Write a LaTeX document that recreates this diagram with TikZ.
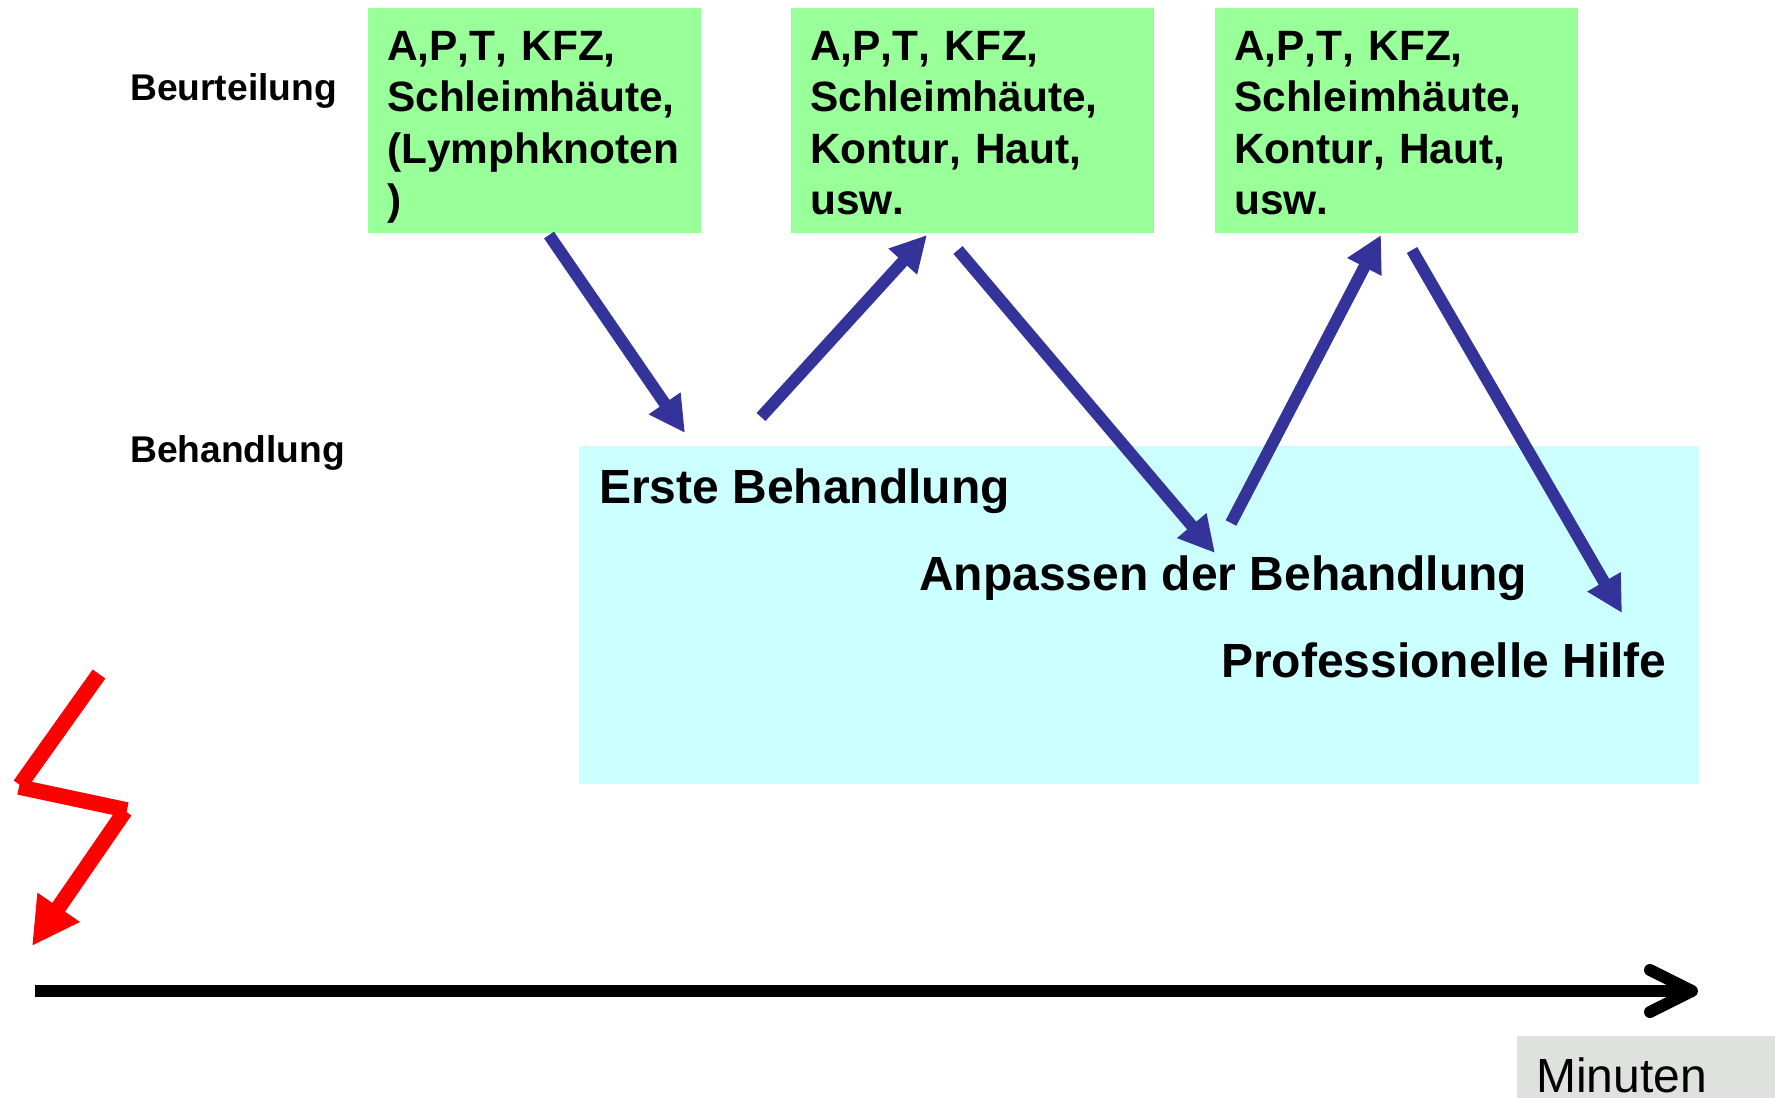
\documentclass[tikz,border=0pt]{standalone}
\usepackage{fontspec}
\setmainfont{Liberation Sans}[Kerning=Off]
\usetikzlibrary{arrows.meta}
\definecolor{boxgreen}{HTML}{99FF99}
\definecolor{boxcyan}{HTML}{CCFFFF}
\definecolor{boxgray}{HTML}{DFE1DF}
\definecolor{arrowblue}{HTML}{333399}
\tikzset{
	greenbox/.style={fill=boxgreen, anchor=north west, inner xsep=19pt, inner ysep=0pt, align=left, font=\fontsize{42.4}{51.5}\selectfont\bfseries,
		execute at begin node={\rule{0pt}{52pt}}, execute at end node={\rule[-18.5pt]{0pt}{0pt}}},
	rowlabel/.style={anchor=base west, inner sep=0pt, font=\fontsize{37.2}{44}\selectfont\bfseries},
	steplabel/.style={anchor=base west, inner sep=0pt, font=\fontsize{48}{58}\selectfont\bfseries},
	bluearrow/.style={draw=arrowblue, line width=12pt, -{Triangle[length=36pt,width=36pt]}},
	redline/.style={draw=red, line width=15.5pt},
}
\begin{document}
\begin{tikzpicture}[x=1pt,y=-1pt]
\useasboundingbox (0,0) rectangle (1775,1098);
\node[greenbox, text width=295pt] (first) at (368,8) {A,P,T, KFZ,\\Schleimhäute,\\(Lymphknoten\\)};
\node[greenbox, text width=325pt] (second) at (791,8) {A,P,T, KFZ,\\Schleimhäute,\\Kontur, Haut,\\usw.};
\node[greenbox, text width=325pt] (third) at (1215,8) {A,P,T, KFZ,\\Schleimhäute,\\Kontur, Haut,\\usw.};
\node[rowlabel] (beurteilung) at (130,100) {Beurteilung};
\node[rowlabel] (behandlung) at (130,462) {Behandlung};
\node[fill=boxcyan, anchor=north west, inner sep=0pt, minimum width=1120pt, minimum height=338pt] (treatment) at (579,446) {};
\node[steplabel] (erste) at (599,503) {Erste Behandlung};
\node[steplabel] (anpassen) at (919,590) {Anpassen der Behandlung};
\node[steplabel] (hilfe) at (1221,677) {Professionelle Hilfe};
\node[fill=boxgray, anchor=north west, inner xsep=19pt, inner ysep=0pt, text width=220pt, text height=56pt, text depth=6pt, align=left, font=\fontsize{48}{58}\selectfont] (minuten) at (1517,1036) {Minuten};
% arrows between assessment and treatment
\coordinate (a1) at (549,235);
\coordinate (a2) at (685,433);
\coordinate (a3) at (761,417);
\coordinate (a4) at (927,235);
\coordinate (a5) at (958,250);
\coordinate (a6) at (1215,553);
\coordinate (a7) at (1231,523);
\coordinate (a8) at (1381,235);
\coordinate (a9) at (1412,250);
\coordinate (a10) at (1622,613);
\draw[bluearrow] (a1) -- (a2);
\draw[bluearrow] (a3) -- (a4);
\draw[bluearrow] (a5) -- (a6);
\draw[bluearrow] (a7) -- (a8);
\draw[bluearrow] (a9) -- (a10);
% lightning
\coordinate (r1) at (99,674);
\coordinate (r2) at (20,785);
\coordinate (r3) at (19,787);
\coordinate (r4) at (127,810);
\coordinate (r5) at (125,811);
\coordinate (r6) at (32,946);
\draw[redline] (r1) -- (r2);
\draw[redline] (r3) -- (r4);
\draw[redline, -{Triangle[length=47pt,width=48pt]}] (r5) -- (r6);
% time axis
\coordinate (t0) at (35,991);
\coordinate (t1) at (1698,991);
\draw[line width=12pt, -{Straight Barb[round,length=42pt,width=42pt]}] (t0) -- (t1);
\end{tikzpicture}
\end{document}
